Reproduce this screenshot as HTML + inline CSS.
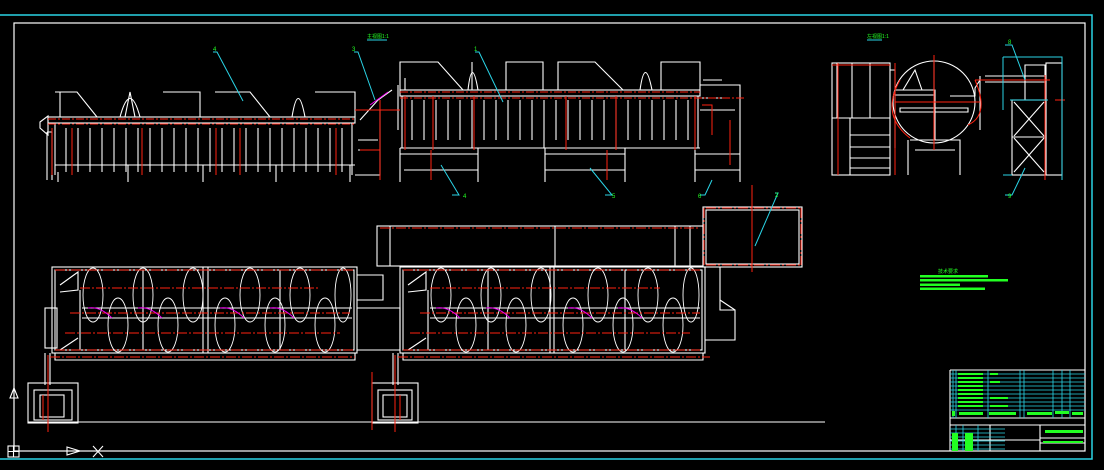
<!DOCTYPE html>
<html><head><meta charset="utf-8"><style>
html,body{margin:0;padding:0;background:#000;}
svg{display:block}
text{font-family:"Liberation Sans","Noto Sans CJK SC",sans-serif;}
</style></head><body>
<svg width="1104" height="470" viewBox="0 0 1104 470" xmlns="http://www.w3.org/2000/svg">
<rect width="1104" height="470" fill="#000"/>
<path d="M0 15H1092V459H0" fill="none" stroke="#2ad4e6" stroke-width="1.5"/>
<rect x="14" y="23" width="1071" height="428" fill="none" stroke="#fff" stroke-width="1.2"/>

<g fill="none" stroke="#fff" stroke-width="1.1">
<path d="M47 132V180M52 132V180M47 132H52"/>
<rect x="48" y="117" width="307" height="6"/>
<path d="M55 92H77L97 117M125 117L130 92L135 117M120 117Q130 80 140 117M163 92H200V117M215 92H250L270 117M292 117Q298 80 305 117M315 92H355V117M60 92V117"/>
<path d="M55 123V175M66 128V172M78 128V172M90 128V172M102 128V172M114 128V172M126 128V172M138 128V172M150 128V172M162 128V172M174 128V172M186 128V172M198 128V172M210 128V172M222 128V172M234 128V172M246 128V172M258 128V172M270 128V172M282 128V172M294 128V172M306 128V172M318 128V172M330 128V172M342 128V172M352 123V175"/>
<path d="M55 165H355M58 172V182M128 165V182M203 165V182M276 165V182M350 165V182"/>
<path d="M40 122L48 116V135L40 128Z"/>
<path d="M355 110H380V175H355M358 140H378M358 150H378M360 120L378 100L392 90"/>
<path d="M400 90V62H438L463 90M468 90Q472 55 478 90M472 90L472 62M506 90V62H543V90M558 90V62H595L623 90M640 90Q645 55 652 90M661 90L661 62H700V90"/>
<rect x="400" y="90" width="300" height="6"/>
<path d="M402 96V148M412 100V140M424 100V140M436 100V140M448 100V140M460 100V140M472 100V148M484 100V140M496 100V140M508 100V140M520 100V140M532 100V140M544 100V148M556 100V140M568 100V140M580 100V140M592 100V140M604 100V140M616 100V148M628 100V140M640 100V140M652 100V140M664 100V140M676 100V140M688 100V140M698 96V148"/>
<path d="M400 148H700M400 148V182M478 148V182M400 154H478M404 170H478M545 148V182M625 148V182M545 154H625M545 170H625M695 148V182M740 148V182M695 154H740M695 170H740"/>
<path d="M700 85H740V148M700 98H730M700 110H735M703 80H722"/>
<path d="M398 85V130M405 78V90"/>
<rect x="377" y="226" width="326" height="40"/>
<path d="M390 226V266M555 226V266M675 226V266M690 226V266"/>
<rect x="703" y="207" width="99" height="60"/>
<rect x="706" y="210" width="93" height="54"/>
<rect x="52" y="267" width="305" height="86"/>
<rect x="55" y="270" width="299" height="80"/>
<path d="M143 270V350M203 267V353M208 267V353M280 270V350M82 308H352M82 318H352"/>
<rect x="45" y="308" width="12" height="40"/>
<path d="M60 285L78 272V290L60 292M60 350L78 338M80 290V350"/>
<rect x="400" y="267" width="305" height="86"/>
<rect x="403" y="270" width="299" height="80"/>
<path d="M488 270V350M550 267V353M554 267V353M625 270V350M430 308H700M430 318H700M428 290V350"/>
<path d="M408 285L426 272V290L408 292M408 350L426 338"/>
<path d="M357 308H400V350H357M357 275H383V300H357"/>
<path d="M705 267H720V310H735V340H705M720 300L735 310"/>
<path d="M55 353H355V360H55ZM403 353H703V360H403Z"/>
<g stroke-width="0.9">
<ellipse cx="93" cy="295" rx="10" ry="27"/><ellipse cx="118" cy="325" rx="10" ry="27"/>
<ellipse cx="143" cy="295" rx="10" ry="27"/><ellipse cx="168" cy="325" rx="10" ry="27"/>
<ellipse cx="193" cy="295" rx="10" ry="27"/><ellipse cx="225" cy="325" rx="10" ry="27"/>
<ellipse cx="250" cy="295" rx="10" ry="27"/><ellipse cx="275" cy="325" rx="10" ry="27"/>
<ellipse cx="300" cy="295" rx="10" ry="27"/><ellipse cx="325" cy="325" rx="10" ry="27"/>
<ellipse cx="343" cy="295" rx="8" ry="27"/>
<ellipse cx="441" cy="295" rx="10" ry="27"/><ellipse cx="466" cy="325" rx="10" ry="27"/>
<ellipse cx="491" cy="295" rx="10" ry="27"/><ellipse cx="516" cy="325" rx="10" ry="27"/>
<ellipse cx="541" cy="295" rx="10" ry="27"/><ellipse cx="573" cy="325" rx="10" ry="27"/>
<ellipse cx="598" cy="295" rx="10" ry="27"/><ellipse cx="623" cy="325" rx="10" ry="27"/>
<ellipse cx="648" cy="295" rx="10" ry="27"/><ellipse cx="673" cy="325" rx="10" ry="27"/>
<ellipse cx="691" cy="295" rx="8" ry="27"/>
</g>
<path d="M45 353V385M50 353V385M393 353V385M398 353V385"/>
<rect x="28" y="383" width="50" height="40"/><rect x="34" y="390" width="38" height="30"/><rect x="40" y="395" width="24" height="22"/>
<rect x="372" y="383" width="46" height="40"/><rect x="378" y="390" width="34" height="30"/><rect x="383" y="395" width="24" height="22"/>
<path d="M28 422H825M14 451H1085"/>
<rect x="8" y="446" width="11" height="11"/><path d="M8 451.5H19M13.5 446V457M67 447L80 451L67 455ZM93 446L103 457M103 446L93 457M14 388L10 398H18Z"/>

<rect x="832" y="63" width="58" height="112"/>
<path d="M837 63V118M852 63V118M870 63V118M832 118H890M850 118V175M850 135H890M850 147H890M850 158H890M850 168H890M890 70H895V148"/>
<circle cx="934" cy="102" r="41"/>
<path d="M895 90H935V140M895 95H935M900 108H968V112H900ZM934 61V140M910 140H960V175M908 140V175M915 150H955M950 96H975V88L980 80"/>
<path d="M903 90L915 70L922 90M985 76H1045M985 82H1045M980 76V130"/>
<rect x="1012" y="100" width="34" height="75"/><rect x="1046" y="63" width="16" height="112"/>
<path d="M1014 102L1044 136M1044 102L1014 136M1014 138L1044 172M1044 138L1014 172M1012 137H1046M1025 65H1045V100H1025Z"/>
<path d="M950 370H1085M950 370V451M950 418H1085M950 425H1085M990 425V451M1040 425V451M950 440H1040M1040 438H1085M1040 443H1085"/>
</g>

<g fill="none" stroke="#f21" stroke-width="1">
<path d="M48 119H355M48 124H355" stroke-dasharray="8 2 2 2"/>
<path d="M52 128V175M72 128V175M142 128V175M216 128V175M240 128V175M336 128V175M380 100V180M360 150H380M355 110H400"/>
<path d="M400 92H700M400 98H745" stroke-dasharray="8 2 2 2"/>
<path d="M405 96V150M433 96V150M474 96V150M566 96V150M616 96V150M695 96V150M607 150V180M431 150V180M730 120V165M702 105H712V135"/>
<g stroke-dasharray="10 2 2 2">
<path d="M80 288H320M70 313H350M65 333H340M430 288H660M420 313H700M410 333H690"/>
<path d="M55 270H355M55 350H355M403 270H700M403 350H700M50 357H355M398 357H710M380 228H700M706 208H800M706 265H800M801 208V265M704 208V265"/>
</g>
<path d="M752 185V272M48 355V432M395 355V432M43 395V420M400 395V420M372 430V372"/>
<path d="M838 63V175M895 63V175M832 65H890M934 55V150M895 102H980M975 80H1050M1045 75V180M1055 100H1065M900 80Q880 115 910 138M968 125Q990 115 975 80"/>
</g>
<g fill="none" stroke="#e0e" stroke-width="1">
<path d="M88 308Q100 306 112 318M138 308Q150 306 162 318M220 308Q232 306 244 318M270 308Q282 306 294 318M436 308Q448 306 460 318M486 308Q498 306 510 318M568 308Q580 306 592 318M618 308Q630 306 642 318"/>
<path d="M370 105L388 92"/>
</g>
<g fill="none" stroke="#2ad4e6" stroke-width="1">
<path d="M213 52H217L243 101M354 52H358L375 100M475 52H479L503 102M452 195H459L441 165M605 195H612L590 168M700 195H705L712 180M775 193H778L755 246M1005 45H1012L1025 80M1005 195H1012L1025 168M1003 57H1062V180M1003 57V110M1010 100H1048M1003 175H1012"/>
<path d="M367 40H387M867 40H882"/>
</g>
<g fill="#2f2" font-size="6">
<text x="213" y="51">4</text><text x="352" y="51">3</text><text x="474" y="51">1</text>
<text x="463" y="198">4</text><text x="612" y="198">5</text><text x="698" y="198">6</text>
<text x="775" y="197">2</text><text x="1008" y="44">8</text><text x="1008" y="198">9</text>
<text x="367" y="38" font-size="5">主视图1:1</text><text x="867" y="38" font-size="5">左视图1:1</text>
<text x="938" y="273" font-size="5">技术要求</text>
</g>
<g fill="#2f2">
<rect x="920" y="275" width="68" height="2.5"/><rect x="920" y="279" width="88" height="2.5"/>
<rect x="920" y="283.5" width="40" height="2.5"/><rect x="920" y="287.5" width="65" height="2.5"/>
</g>
<g fill="none" stroke="#2ad4e6" stroke-width="0.8">
<path d="M950 374H1085M950 378H1085M950 382H1085M950 386H1085M950 390H1085M950 394H1085M950 398H1085M950 402H1085M950 406H1085M950 410H1085M953 370V418M956 370V418M988 370V418M1020 370V418M1024 370V418M1053 370V418M1062 370V418M1070 370V418"/>
<path d="M950 429H1005M950 433H1005M950 437H1005M950 441H1005M950 445H1005M950 449H1005M956 425V451M963 425V451M978 425V451"/>
</g>
<g fill="#2f2">
<rect x="958" y="373" width="25" height="2"/><rect x="958" y="377" width="25" height="2"/><rect x="958" y="381" width="25" height="2"/><rect x="958" y="385" width="25" height="2"/><rect x="958" y="389" width="25" height="2"/><rect x="958" y="393" width="25" height="2"/><rect x="958" y="397" width="25" height="2"/><rect x="958" y="401" width="25" height="2"/><rect x="958" y="405" width="25" height="2"/>
<rect x="990" y="373" width="8" height="2"/><rect x="990" y="381" width="10" height="2"/><rect x="990" y="397" width="18" height="2"/><rect x="990" y="405" width="18" height="2"/>
<rect x="952" y="411" width="3" height="5"/><rect x="959" y="412" width="24" height="3"/><rect x="989" y="412" width="27" height="3"/><rect x="1027" y="412" width="25" height="3"/><rect x="1055" y="411" width="14" height="3"/><rect x="1072" y="412" width="11" height="3"/>
<rect x="952" y="433" width="6" height="18"/><rect x="965" y="433" width="8" height="18"/><rect x="1045" y="430" width="38" height="3"/><rect x="1043" y="441" width="40" height="2"/>
</g>
</svg>
</body></html>
